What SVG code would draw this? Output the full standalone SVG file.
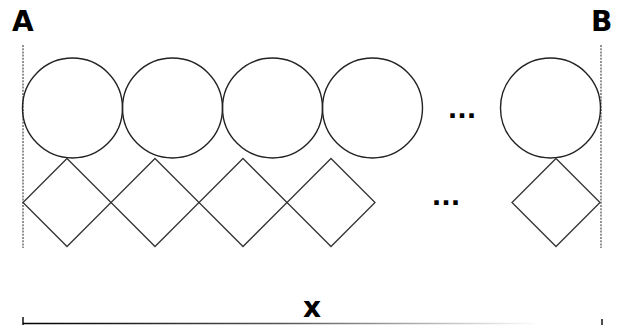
<svg xmlns="http://www.w3.org/2000/svg" width="619" height="325" viewBox="0 0 619 325">
<style>
.c{fill:none;stroke:#222;stroke-width:1.4}
.d{fill:none;stroke:#333;stroke-width:1.3}
.dash{stroke:#666;stroke-width:1.4;stroke-dasharray:2 1.2}
.lbl{font-family:"DejaVu Sans",sans-serif;font-weight:bold;font-size:28px;fill:#000}
.dots{font-family:"DejaVu Sans",sans-serif;font-weight:bold;font-size:25px;fill:#000;text-anchor:middle}
</style>
<defs>
<linearGradient id="fade" gradientUnits="userSpaceOnUse" x1="23" y1="0" x2="540" y2="0">
<stop offset="0" stop-color="#000"/>
<stop offset="0.5" stop-color="#555"/>
<stop offset="1" stop-color="#fff"/>
</linearGradient>
</defs>
<rect width="619" height="325" fill="#fff"/>
<g id="labels">
<text class="lbl" x="12" y="31">A</text>
<text class="lbl" x="591" y="31">B</text>
<text class="lbl" x="303" y="317">x</text>
</g>
<g id="connectors">
<line class="dash" x1="23" y1="45" x2="23" y2="248"/>
<line class="dash" x1="601" y1="45" x2="601" y2="248"/>
<line x1="23" y1="323.5" x2="602" y2="323.5" stroke="url(#fade)" stroke-width="1.6"/>
<line x1="23" y1="317" x2="23" y2="325" stroke="#000" stroke-width="1.4"/>
<line x1="602" y1="319" x2="602" y2="325" stroke="#000" stroke-width="1.4"/>
</g>
<g id="circle1"><circle class="c" cx="72.5" cy="108" r="50"/></g>
<g id="circle2"><circle class="c" cx="172.5" cy="108" r="50"/></g>
<g id="circle3"><circle class="c" cx="272.5" cy="108" r="50"/></g>
<g id="circle4"><circle class="c" cx="372.5" cy="108" r="50"/></g>
<g id="circle5"><circle class="c" cx="550.5" cy="108" r="50"/></g>
<g id="diamond1"><polygon class="d" points="67,158.5 111,202.5 67,246.5 23,202.5"/></g>
<g id="diamond2"><polygon class="d" points="155,158.5 199,202.5 155,246.5 111,202.5"/></g>
<g id="diamond3"><polygon class="d" points="243,158.5 287,202.5 243,246.5 199,202.5"/></g>
<g id="diamond4"><polygon class="d" points="331,158.5 375,202.5 331,246.5 287,202.5"/></g>
<g id="diamond5"><polygon class="d" points="556,158.5 600,202.5 556,246.5 512,202.5"/></g>
<g id="ellipses">
<text class="dots" x="462" y="118">...</text>
<text class="dots" x="446" y="205">...</text>
</g>
</svg>
